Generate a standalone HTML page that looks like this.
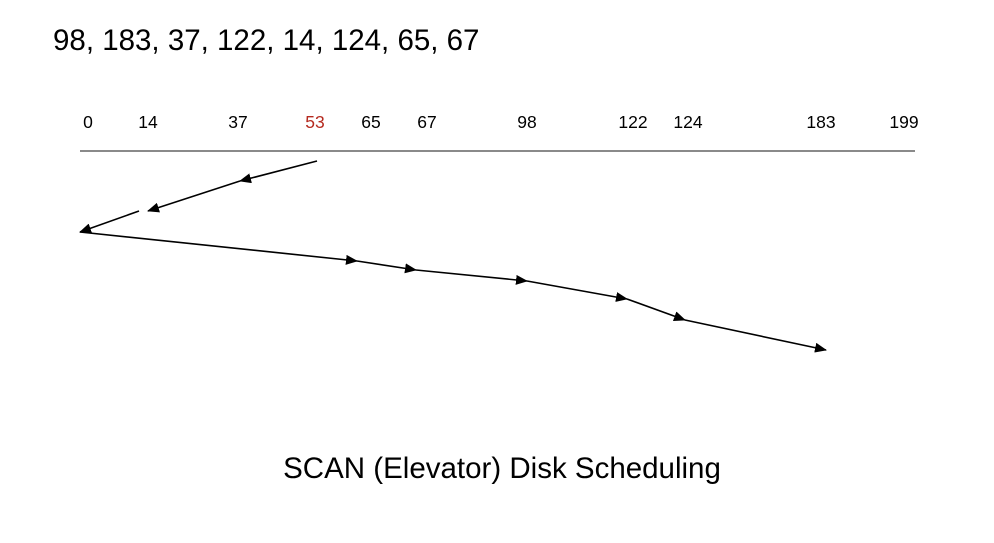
<!DOCTYPE html>
<html><head><meta charset="utf-8"><style>
body{margin:0;background:#fff;width:994px;height:538px;overflow:hidden;font-family:"Liberation Sans",Arial,sans-serif}
</style></head><body>
<svg width="994" height="538" xmlns="http://www.w3.org/2000/svg">
<defs><marker id="ah" markerWidth="12" markerHeight="10" refX="11" refY="5" orient="auto" markerUnits="userSpaceOnUse"><path d="M0,0 L12,5 L0,10 Z" fill="#000"/></marker></defs>
<text x="53" y="50" font-size="29.5" fill="#000">98, 183, 37, 122, 14, 124, 65, 67</text>
<line x1="80" y1="151" x2="915" y2="151" stroke="#444" stroke-width="1.2"/>
<g id="ticks"></g>
<g id="path"></g>
<text x="502" y="478" font-size="29.5" text-anchor="middle" fill="#000">SCAN (Elevator) Disk Scheduling</text>
</svg>
<script>
const tickValues=[0,14,37,53,65,67,98,122,124,183,199];
const tickLabelX=[88,148,238,315,371,427,527,633,688,821,904];
const headStart=53;
const serviceOrder=[37,14,0,65,67,98,122,124,183];
const stepY=[161,181,211,232,261,270,281,299,320,350];
const markX={53:317,37:240,14:148,0:80,65:357,67:416,98:527,122:627,124:685,183:826};
function xOf(v){if(markX[v]!==undefined)return markX[v];
 for(let i=0;i<tickValues.length-1;i++){const a=tickValues[i],b=tickValues[i+1];if(v>=a&&v<=b)return tickLabelX[i]+(v-a)/(b-a)*(tickLabelX[i+1]-tickLabelX[i]);}return tickLabelX[tickLabelX.length-1];}
const NS="http://www.w3.org/2000/svg";
const tg=document.getElementById('ticks');
tickValues.forEach((v,i)=>{const t=document.createElementNS(NS,'text');
t.setAttribute('x',tickLabelX[i]);t.setAttribute('y',128);t.setAttribute('font-size','17.5');t.setAttribute('text-anchor','middle');
t.setAttribute('fill',v===headStart?'#b52a1f':'#000');t.textContent=v;


tg.appendChild(t);});
const pg=document.getElementById('path');
const pts=[headStart,...serviceOrder];
for(let i=0;i<pts.length-1;i++){
 let x1=xOf(pts[i]),y1=stepY[i],x2=xOf(pts[i+1]),y2=stepY[i+1];
 if(pts[i]===14){x1=x1-9;}
 const l=document.createElementNS(NS,'line');
 l.setAttribute('x1',x1);l.setAttribute('y1',y1);l.setAttribute('x2',x2);l.setAttribute('y2',y2);
 l.setAttribute('stroke','#000');l.setAttribute('stroke-width','1.6');l.setAttribute('marker-end','url(#ah)');
 
 
 pg.appendChild(l);}
</script>
</body></html>
